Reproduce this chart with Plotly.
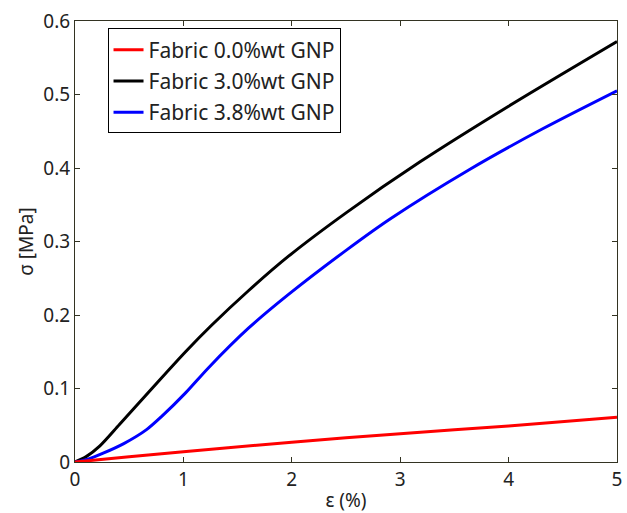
import plotly.graph_objects as go

strain_black = [0, 0.1, 0.23, 0.41, 0.71, 1.02, 1.26, 1.6, 1.97, 2.51, 3.18, 4.0, 5.0]
stress_black = [0, 0.007, 0.022, 0.051, 0.100, 0.150, 0.186, 0.233, 0.280, 0.340, 0.408, 0.484, 0.572]

strain_blue = [0, 0.12, 0.26, 0.45, 0.66, 0.8, 1.02, 1.23, 1.6, 1.97, 2.51, 2.91, 3.64, 4.31, 5.0]
stress_blue = [0, 0.004, 0.012, 0.025, 0.044, 0.062, 0.094, 0.128, 0.182, 0.228, 0.289, 0.331, 0.398, 0.453, 0.505]

strain_red = [0, 0.25, 0.5, 1.0, 1.5, 2.0, 2.5, 3.0, 3.5, 4.0, 4.5, 5.0]
stress_red = [0, 0.003, 0.007, 0.014, 0.021, 0.027, 0.033, 0.039, 0.044, 0.049, 0.055, 0.061]

names = ["Fabric 0.0%wt GNP", "Fabric 3.0%wt GNP", "Fabric 3.8%wt GNP"]

fig = go.Figure()
fig.add_trace(go.Scatter(x=strain_black, y=stress_black, mode="lines", name=names[1],
                         line=dict(color="black", width=3, shape="spline", smoothing=0.8),
                         legendrank=2, legendgroup="b"))
fig.add_trace(go.Scatter(x=strain_blue, y=stress_blue, mode="lines", name=names[2],
                         line=dict(color="blue", width=3, shape="spline", smoothing=0.8),
                         legendrank=3, legendgroup="c"))
fig.add_trace(go.Scatter(x=strain_red, y=stress_red, mode="lines", name=names[0],
                         line=dict(color="red", width=3), legendrank=1, legendgroup="a"))

axis_common = dict(showgrid=False, zeroline=False, showline=True, linecolor="#333322",
                   linewidth=1, mirror="ticks", ticks="inside", ticklen=5, tickcolor="#333322",
                   tickfont=dict(size=19, color="#222"), ticklabeloverflow="allow")

fig.update_layout(
    width=627, height=513,
    margin=dict(l=75, r=5, t=21, b=51),
    paper_bgcolor="white", plot_bgcolor="white",
    font=dict(family="Noto Sans", color="#222"),
    xaxis=dict(range=[0, 5], tickvals=[0, 1, 2, 3, 4, 5],
               title=dict(text="ε (%)", font=dict(size=19), standoff=2), **axis_common),
    yaxis=dict(range=[0, 0.6], tickvals=[0, 0.1, 0.2, 0.3, 0.4, 0.5, 0.6],
               ticktext=["0", "0.1", "0.2", "0.3", "0.4", "0.5", "0.6"],
               title=dict(text="σ [MPa]", font=dict(size=19), standoff=4), **axis_common),
    legend=dict(x=0.06, y=0.983, xanchor="left", yanchor="top",
                bordercolor="black", borderwidth=1, bgcolor="white",
                font=dict(size=21, color="#222"), tracegroupgap=1),
    showlegend=True,
)

fig.write_html("out.html")
